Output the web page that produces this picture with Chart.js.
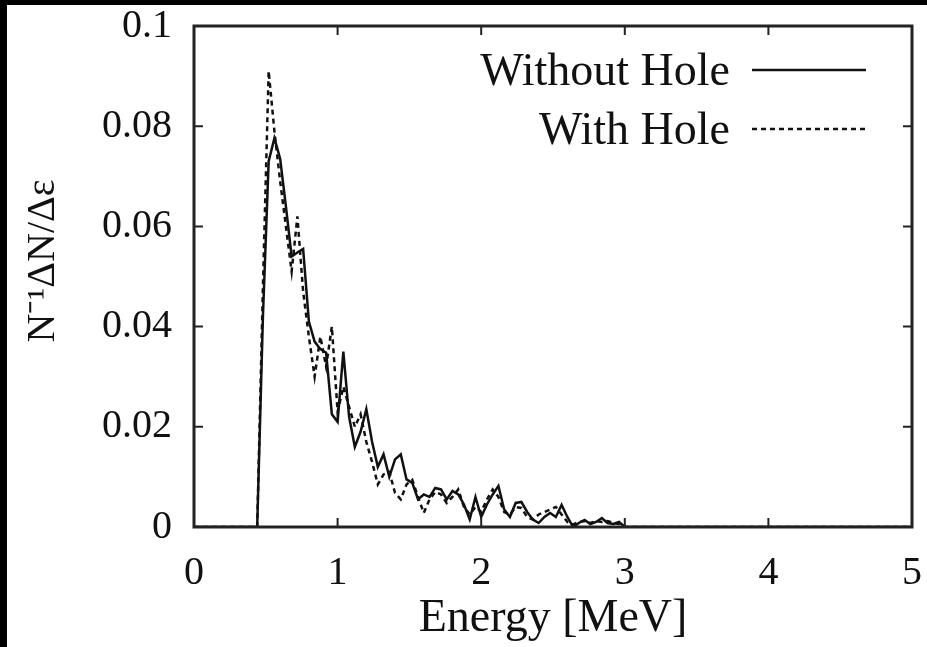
<!DOCTYPE html>
<html>
<head>
<meta charset="utf-8">
<script src="https://cdn.jsdelivr.net/npm/chart.js@4.4.0/dist/chart.umd.min.js"></script>
<style>
html, body { margin: 0; padding: 0; background: #000; width: 927px; height: 647px; overflow: hidden; }
#wrap { position: absolute; left: 7px; top: 5px; width: 920px; height: 642px; background: #fff; }
</style>
</head>
<body>
<div id="wrap"><canvas id="spectrum" width="920" height="642"></canvas></div>
<script>
// energy bins [MeV] (0.04 MeV wide between 0.4 and 3.0)
let energy = [0,
  0.40, 0.44, 0.48, 0.52, 0.56, 0.60, 0.64, 0.68, 0.72, 0.76,
  0.80, 0.84, 0.88, 0.92, 0.96, 1.00, 1.04, 1.08, 1.12, 1.16,
  1.20, 1.24, 1.28, 1.32, 1.36, 1.40, 1.44, 1.48, 1.52, 1.56,
  1.60, 1.64, 1.68, 1.72, 1.76, 1.80, 1.84, 1.88, 1.92, 1.96,
  2.00, 2.04, 2.08, 2.12, 2.16, 2.20, 2.24, 2.28, 2.32, 2.36,
  2.40, 2.44, 2.48, 2.52, 2.56, 2.60, 2.64, 2.68, 2.72, 2.76,
  2.80, 2.84, 2.88, 2.92, 2.96, 3.00,
  5];

let withoutHole = [0,
  0, 0, 0.042, 0.073, 0.0776, 0.0735, 0.064, 0.054, 0.0548, 0.0555,
  0.041, 0.037, 0.0355, 0.0348, 0.0225, 0.021, 0.035, 0.022, 0.016, 0.019,
  0.0235, 0.017, 0.012, 0.0145, 0.010, 0.0135, 0.0145, 0.0095, 0.0088, 0.0055,
  0.0065, 0.006, 0.0078, 0.0075, 0.0055, 0.0072, 0.0065, 0.0045, 0.0015, 0.006,
  0.002, 0.0045, 0.0065, 0.0082, 0.0035, 0.002, 0.0048, 0.005, 0.003, 0.0015,
  0.0008, 0.002, 0.0028, 0.002, 0.0044, 0.002, 0, 0.0008, 0.0014, 0.0006,
  0.001, 0.0018, 0.0008, 0.0006, 0.001, 0,
  0];

let withHole = [0,
  0, 0, 0.048, 0.091, 0.079, 0.069, 0.060, 0.051, 0.062, 0.047,
  0.038, 0.030, 0.038, 0.032, 0.040, 0.023, 0.028, 0.024, 0.020, 0.0225,
  0.017, 0.013, 0.0085, 0.0105, 0.011, 0.0068, 0.0055, 0.0085, 0.0094, 0.006,
  0.0028, 0.0055, 0.007, 0.0065, 0.0048, 0.006, 0.0075, 0.004, 0.0025, 0.004,
  0.003, 0.0055, 0.0075, 0.006, 0.003, 0.0025, 0.004, 0.0038, 0.002, 0.0015,
  0.0025, 0.003, 0.0035, 0.004, 0.0025, 0.001, 0.0005, 0.001, 0.0012, 0.0008,
  0.0012, 0.001, 0.0012, 0.0008, 0.0006, 0,
  0];

let xTicks = [0, 1, 2, 3, 4, 5];
let yTicks = [0, 0.02, 0.04, 0.06, 0.08, 0.1];
let seriesNames = ["Without Hole", "With Hole"];
let yTitle = "N\u207B\u00B9\u0394N/\u0394\u03B5";

let serif = "'Liberation Serif', 'Times New Roman', serif";
let ink = "#111";

// box, inward ticks, legend (label left of sample) and y title
let frame = {
    id: "frame",
    afterDraw(chart) {
        let c = chart.ctx, a = chart.chartArea;
        let xs = chart.scales.x, ys = chart.scales.y;
        c.save();
        c.strokeStyle = "#222";
        c.lineWidth = 2;
        xTicks.slice(1, -1).forEach(t => {
            let px = xs.getPixelForValue(t);
            c.beginPath();
            c.moveTo(px, a.bottom); c.lineTo(px, a.bottom - 9);
            c.moveTo(px, a.top); c.lineTo(px, a.top + 9);
            c.stroke();
        });
        yTicks.slice(1, -1).forEach(t => {
            let py = ys.getPixelForValue(t);
            c.beginPath();
            c.moveTo(a.left, py); c.lineTo(a.left + 9, py);
            c.moveTo(a.right, py); c.lineTo(a.right - 9, py);
            c.stroke();
        });
        c.lineWidth = 3;
        c.strokeRect(a.left, a.top, a.right - a.left, a.bottom - a.top);

        // legend
        c.font = "46px " + serif;
        c.fillStyle = ink;
        c.textAlign = "right";
        c.textBaseline = "middle";
        chart.data.datasets.forEach((ds, i) => {
            let y = 68 + i * 59;
            c.fillText(ds.label, 723, y);
            c.strokeStyle = ink;
            c.lineWidth = 2.5;
            c.setLineDash(ds.borderDash || []);
            c.beginPath();
            c.moveTo(745, y - 3); c.lineTo(859, y - 3);
            c.stroke();
        });
        c.setLineDash([]);

        // y axis title
        c.translate(36, 256);
        c.rotate(-Math.PI / 2);
        c.textAlign = "center";
        c.font = "40px " + serif;
        c.fillText(yTitle, 0, 0);
        c.restore();
    }
};

let ctx = document.getElementById("spectrum").getContext("2d");

let chart = new Chart(ctx, {
    type: "line",
    data: {
        datasets: [{
            label: seriesNames[0],
            data: energy.map((e, i) => ({ x: e, y: withoutHole[i] })),
            borderColor: ink,
            borderWidth: 2.5,
            pointRadius: 0,
            tension: 0
        }, {
            label: seriesNames[1],
            data: energy.map((e, i) => ({ x: e, y: withHole[i] })),
            borderColor: ink,
            borderWidth: 2.5,
            borderDash: [5, 4],
            pointRadius: 0,
            tension: 0
        }]
    },
    options: {
        responsive: false,
        animation: false,
        layout: { padding: { left: 0, top: 21, right: 15, bottom: 0 } },
        plugins: {
            legend: { display: false },
            tooltip: { enabled: false }
        },
        scales: {
            x: {
                type: "linear",
                min: 0, max: 5,
                afterBuildTicks: s => { s.ticks = xTicks.map(v => ({ value: v })); },
                afterFit: s => {
                    s.height = 120;
                    s.paddingLeft = 0; s.paddingRight = 0;
                },
                grid: { display: false, drawTicks: false },
                border: { display: false },
                ticks: { color: ink, font: { family: serif, size: 40 }, padding: 22, maxRotation: 0 },
                title: {
                    display: true,
                    text: "Energy [MeV]",
                    color: ink,
                    font: { family: serif, size: 46 },
                    padding: { top: 0, bottom: 0 }
                }
            },
            y: {
                min: 0, max: 0.1,
                afterBuildTicks: s => { s.ticks = yTicks.map(v => ({ value: v })); },
                afterFit: s => {
                    s.width = 187;
                    s.paddingTop = 0; s.paddingBottom = 0;
                },
                grid: { display: false, drawTicks: false },
                border: { display: false },
                ticks: {
                    color: ink,
                    font: { family: serif, size: 40 },
                    padding: 22,
                    callback: v => String(parseFloat(v.toFixed(2)))
                }
            }
        }
    },
    plugins: [frame]
});
</script>
</body>
</html>
